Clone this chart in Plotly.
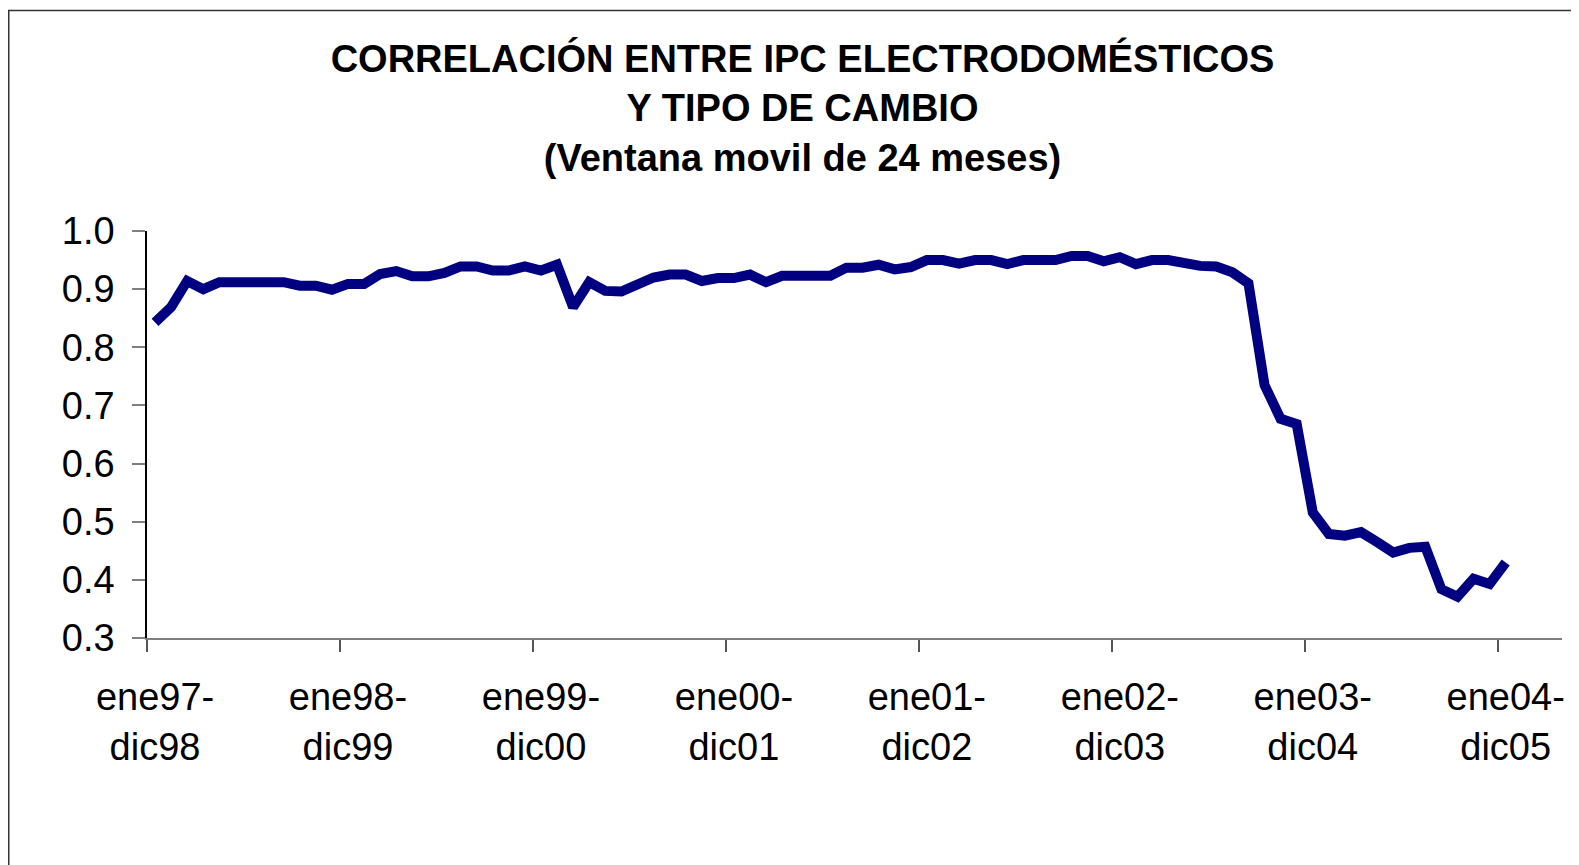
import plotly.graph_objects as go

# 24-month rolling correlation, monthly windows (ene97-dic98 ... ene04-dic05)
window_index = list(range(85))
correlation = [
    0.843, 0.869, 0.914, 0.900, 0.912, 0.912, 0.912, 0.912, 0.912, 0.906,
    0.906, 0.899, 0.909, 0.909, 0.926, 0.931, 0.922, 0.922, 0.928, 0.939,
    0.939, 0.932, 0.932, 0.939, 0.932, 0.942, 0.869, 0.912, 0.897, 0.896,
    0.906, 0.920, 0.925, 0.925, 0.914, 0.919, 0.919, 0.925, 0.912, 0.923,
    0.923, 0.923, 0.923, 0.937, 0.937, 0.942, 0.934, 0.938, 0.950, 0.950,
    0.944, 0.950, 0.950, 0.943, 0.950, 0.950, 0.950, 0.957, 0.957, 0.948,
    0.955, 0.943, 0.950, 0.950, 0.944, 0.940, 0.939, 0.929, 0.910, 0.735,
    0.677, 0.668, 0.516, 0.479, 0.476, 0.482, 0.465, 0.447, 0.455, 0.457,
    0.384, 0.371, 0.402, 0.393, 0.430,
]

tick_positions = [0, 12, 24, 36, 48, 60, 72, 84]
tick_labels = [
    "ene97-<br>dic98", "ene98-<br>dic99", "ene99-<br>dic00", "ene00-<br>dic01",
    "ene01-<br>dic02", "ene02-<br>dic03", "ene03-<br>dic04", "ene04-<br>dic05",
]
boundary_ticks = [-0.5, 11.5, 23.5, 35.5, 47.5, 59.5, 71.5, 83.5]
n_categories = 88

title_lines = [
    "CORRELACIÓN ENTRE IPC ELECTRODOMÉSTICOS",
    "Y TIPO DE CAMBIO",
    "(Ventana movil de 24 meses)",
]

# page body adds an 8px margin, so the figure is 8px smaller than the window
W, H = 1571, 857
L, R, T, B = 139, 17, 223, 227
FONT = "Liberation Sans, Arial, sans-serif"

fig = go.Figure()
fig.add_trace(go.Scatter(
    x=window_index, y=correlation, mode="lines",
    line=dict(color="#000080", width=10),
    showlegend=False, hoverinfo="x+y",
))

# outer chart frame (extends past the right and bottom edges, as in the reference)
pw, ph = W - L - R, H - T - B
fig.add_shape(
    type="rect", xref="paper", yref="paper",
    x0=(0.75 - L) / pw, x1=(W + 5 - L) / pw,
    y0=(H - B - (H + 5)) / ph, y1=(H - B - 2.5) / ph,
    line=dict(color="#333333", width=1.5), fillcolor="rgba(0,0,0,0)", layer="above",
)

fig.update_layout(
    width=W, height=H,
    margin=dict(l=L, r=R, t=T, b=B, pad=0),
    paper_bgcolor="white", plot_bgcolor="white",
    title=dict(
        text="<b>" + "<br>".join(title_lines) + "</b>",
        font=dict(family=FONT, size=38, color="black"),
        xref="container", x=794.5 / W, xanchor="center",
        yref="container", y=1 - 64 / H, yanchor="top",
    ),
    xaxis=dict(
        range=[-0.5, n_categories - 0.5],
        tickmode="array", tickvals=tick_positions, ticktext=tick_labels,
        ticks="", ticklabelstandoff=25,
        tickfont=dict(family=FONT, size=38, color="black"),
        showline=True, linecolor="#7f7f7f", linewidth=1.5,
        showgrid=False, zeroline=False,
        minor=dict(tickmode="array", tickvals=boundary_ticks, ticks="outside",
                   ticklen=12, tickcolor="#555555", tickwidth=1.5, showgrid=False),
    ),
    yaxis=dict(
        range=[0.3, 1.0], tickmode="linear", tick0=0.3, dtick=0.1, tickformat=".1f",
        ticks="outside", ticklen=13, tickcolor="#7f7f7f", tickwidth=1.5,
        ticklabelstandoff=10,
        tickfont=dict(family=FONT, size=38, color="black"),
        showline=True, linecolor="black", linewidth=1.5,
        showgrid=False, zeroline=False,
    ),
)

fig.write_html("out.html")
